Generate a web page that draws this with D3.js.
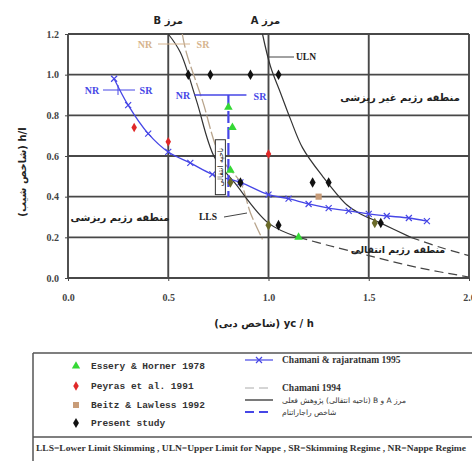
<!DOCTYPE html>
<html>
<head>
<meta charset="utf-8">
<script src="https://cdn.jsdelivr.net/npm/d3@7"></script>
<style>
  body { margin: 0; background: #fff; }
  svg { display: block; }
</style>
</head>
<body>
<script>
// ---- data ----
const xTicks = [0, 0.5, 1.0, 1.5, 2.0];
const yTicks = [0, 0.2, 0.4, 0.6, 0.8, 1.0, 1.2];

// Chamani & Rajaratnam 1995 (blue, x markers)
const chamRajX = [0.23, 0.30, 0.40, 0.50, 0.61, 0.72, 0.86, 1.00, 1.10, 1.20, 1.30, 1.40, 1.50, 1.59, 1.70, 1.79];
const chamRajY = [0.98, 0.85, 0.71, 0.62, 0.566, 0.51, 0.47, 0.41, 0.39, 0.364, 0.344, 0.33, 0.315, 0.305, 0.295, 0.28];

// boundary B (solid) and its dashed continuation
const bndBX = [0.50, 0.56, 0.64, 0.73, 0.83, 1.00, 1.15];
const bndBY = [1.20, 1.11, 0.875, 0.595, 0.47, 0.27, 0.20];
const bndBDashX = [1.15, 1.30, 1.50, 1.75, 2.00];
const bndBDashY = [0.20, 0.16, 0.11, 0.05, 0.005];

// Chamani 1994 LLS line (light dashed)
const cham94X = [0.57, 0.59, 0.67, 0.76, 0.86, 0.91, 0.97];
const cham94Y = [1.20, 1.11, 0.875, 0.595, 0.47, 0.32, 0.19];

// boundary A (ULN)
const bndAX = [0.97, 1.01, 1.06, 1.11, 1.17, 1.27, 1.39, 1.45, 1.56, 1.71];
const bndAY = [1.20, 1.04, 0.91, 0.78, 0.64, 0.50, 0.36, 0.32, 0.27, 0.20];
const bndADashX = [1.71, 1.86, 2.00];
const bndADashY = [0.20, 0.15, 0.11];

// Rajaratnam index (blue NR/SR lines)
const rajHX = [0.63, 0.89], rajHY = [0.90, 0.90];
const rajVX = [0.80, 0.80], rajVY = [0.90, 0.40];

const esseryX = [0.80, 0.82, 0.81, 1.15];
const esseryY = [0.84, 0.74, 0.53, 0.20];
const peyrasX = [0.33, 0.50, 1.00];
const peyrasY = [0.74, 0.67, 0.61];
const beitzX = [1.25];
const beitzY = [0.40];
const presentX = [0.60, 0.71, 0.91, 1.05, 0.86, 1.05, 1.22, 1.30, 1.56];
const presentY = [1.00, 1.00, 1.00, 1.00, 0.47, 0.26, 0.47, 0.47, 0.27];
const presentOliveX = [0.81, 1.00, 1.53];
const presentOliveY = [0.47, 0.26, 0.27];

const legendLeft = ["Essery & Horner 1978", "Peyras et al. 1991", "Beitz & Lawless 1992", "Present study"];
const legendRight = ["Chamani & rajaratnam 1995", "Chamani 1994", "مرز A و B (ناحیه انتقالی) پژوهش فعلی", "شاخص راجاراتنام"];
const footnote = "LLS=Lower Limit Skimming , ULN=Upper Limit for Nappe , SR=Skimming Regime , NR=Nappe Regime";

// ---- layout ----
const W = 472, H = 461;
const margin = { top: 34, right: 3, bottom: 183, left: 68 };
const x = d3.scaleLinear().domain([0, 2]).range([margin.left, W - margin.right]);
const y = d3.scaleLinear().domain([0, 1.2]).range([H - margin.bottom, margin.top]);

const serif = "'Liberation Serif', serif";
const mono = "'Liberation Mono', monospace";
const fa = "'DejaVu Sans', sans-serif";
const blue = "#4646e6";

const svg = d3.select("body").append("svg")
  .attr("width", W).attr("height", H)
  .attr("viewBox", [0, 0, W, H]);

const zip = (a, b) => a.map((v, i) => [v, b[i]]);
const line = d3.line().x(d => x(d[0])).y(d => y(d[1]));
const smooth = d3.line().x(d => x(d[0])).y(d => y(d[1])).curve(d3.curveCatmullRom);

// grid
const grid = svg.append("g").attr("stroke", "#484848").attr("stroke-width", 1.9);
grid.selectAll(".v").data(xTicks).join("line")
  .attr("x1", d => x(d)).attr("x2", d => x(d))
  .attr("y1", y(1.2)).attr("y2", y(0));
grid.selectAll(".h").data(yTicks).join("line")
  .attr("x1", x(0)).attr("x2", x(2))
  .attr("y1", d => y(d)).attr("y2", d => y(d));

// axes
const yAxis = svg.append("g").attr("transform", `translate(${x(0)},0)`)
  .call(d3.axisLeft(y).tickValues(yTicks).tickFormat(d3.format(".1f")).tickSize(3).tickPadding(6));
const xAxis = svg.append("g").attr("transform", `translate(0,${y(0)})`)
  .call(d3.axisBottom(x).tickValues(xTicks).tickFormat(d3.format(".1f")).tickSize(3).tickPadding(13));
[xAxis, yAxis].forEach(g => {
  g.select(".domain").remove();
  g.selectAll(".tick line").attr("stroke", "#484848");
  g.selectAll("text").attr("font-family", serif).attr("font-weight", "bold")
    .attr("font-size", 10).attr("fill", "#444");
});

// curves
svg.append("path").attr("d", smooth(zip(cham94X, cham94Y)))
  .attr("fill", "none").attr("stroke", "#b8a48c").attr("stroke-width", 1.3)
  .attr("stroke-dasharray", "14,3");
svg.append("path").attr("d", smooth(zip(bndBX, bndBY)))
  .attr("fill", "none").attr("stroke", "#333").attr("stroke-width", 1.2);
svg.append("path").attr("d", smooth(zip(bndBDashX, bndBDashY)))
  .attr("fill", "none").attr("stroke", "#444").attr("stroke-width", 1.2)
  .attr("stroke-dasharray", "9,5");
svg.append("path").attr("d", smooth(zip(bndAX, bndAY)))
  .attr("fill", "none").attr("stroke", "#333").attr("stroke-width", 1.2);
svg.append("path").attr("d", smooth(zip(bndADashX, bndADashY)))
  .attr("fill", "none").attr("stroke", "#444").attr("stroke-width", 1.2)
  .attr("stroke-dasharray", "9,5");

// Rajaratnam index lines
svg.append("path").attr("d", line(zip(rajHX, rajHY)))
  .attr("stroke", blue).attr("stroke-width", 1.5).attr("fill", "none");
svg.append("path").attr("d", line(zip(rajVX, rajVY)))
  .attr("stroke", blue).attr("stroke-width", 2.2).attr("fill", "none")
  .attr("stroke-dasharray", "12,4");

// Chamani & Rajaratnam 1995
const chamRaj = zip(chamRajX, chamRajY);
svg.append("path").attr("d", smooth(chamRaj))
  .attr("fill", "none").attr("stroke", blue).attr("stroke-width", 1.3);
const xMark = (sel, s) => sel.append("path")
  .attr("d", `M${-s},${-s}L${s},${s}M${-s},${s}L${s},${-s}`)
  .attr("stroke", blue).attr("stroke-width", 1.2);
svg.selectAll(".xm").data(chamRaj).join("g")
  .attr("transform", d => `translate(${x(d[0])},${y(d[1])})`)
  .each(function () { xMark(d3.select(this), 3); });

// rotated boxed label inside the transition zone
const bx0 = x(0.735), bx1 = x(0.785), by0 = y(0.68), by1 = y(0.41);
svg.append("rect").attr("x", bx0).attr("y", by0).attr("width", bx1 - bx0).attr("height", by1 - by0)
  .attr("fill", "#fff").attr("stroke", "#333").attr("stroke-width", 1);
svg.append("text")
  .attr("transform", `translate(${(bx0 + bx1) / 2 + 3},${(by0 + by1) / 2}) rotate(-90)`)
  .attr("text-anchor", "middle").attr("font-family", fa).attr("font-size", 7.5)
  .attr("direction", "rtl").attr("fill", "#222").text("ناحیه انتقالی");

// markers
const pts = (xs, ys, shape, size, fill) =>
  svg.append("g").selectAll("path").data(zip(xs, ys)).join("path")
    .attr("transform", d => `translate(${x(d[0])},${y(d[1])})`)
    .attr("d", d3.symbol().type(shape).size(size)).attr("fill", fill);
pts(esseryX, esseryY, d3.symbolTriangle, 32, "#35d835");
pts(peyrasX, peyrasY, d3.symbolDiamond, 26, "#e02828");
pts(beitzX, beitzY, d3.symbolSquare, 38, "#c89c78");
pts(presentOliveX, presentOliveY, d3.symbolDiamond, 32, "#6a6a28");
pts(presentX, presentY, d3.symbolDiamond, 32, "#111");

// labels in plot
const lbl = (t, px, py, o = {}) => svg.append("text")
  .attr("x", px).attr("y", py).attr("dy", "0.35em")
  .attr("text-anchor", o.anchor || "middle")
  .attr("font-family", o.font || serif).attr("font-size", o.size || 10)
  .attr("font-weight", o.weight || "bold").attr("fill", o.fill || "#222")
  .attr("direction", o.dir || null).text(t);

// boundary titles above the plot
lbl("مرز B", x(0.5), 20, { font: fa, dir: "rtl" });
lbl("مرز A", x(0.985), 20, { font: fa, dir: "rtl" });

// NR / SR labels
const tan = "#d6b48e";
lbl("NR", 145, 44, { fill: tan });
svg.append("line").attr("x1", 158).attr("x2", 190).attr("y1", 44).attr("y2", 44).attr("stroke", tan);
lbl("SR", 203, 44, { fill: tan });

lbl("NR", 92, 90, { fill: blue });
svg.append("line").attr("x1", 103).attr("x2", 135).attr("y1", 90).attr("y2", 90).attr("stroke", blue);
svg.append("line").attr("x1", 118).attr("x2", 118).attr("y1", 85).attr("y2", 95).attr("stroke", blue);
lbl("SR", 146, 90, { fill: blue });

lbl("NR", 183, 95, { fill: blue });
lbl("SR", 260, 96, { fill: blue });

// ULN pointer
svg.append("line").attr("x1", x(1.0)).attr("x2", 294).attr("y1", 57).attr("y2", 57).attr("stroke", "#444");
lbl("ULN", 296, 57, { anchor: "start", size: 9.5 });

// LLS pointer
svg.append("line").attr("x1", 224).attr("x2", 247).attr("y1", 217).attr("y2", 213).attr("stroke", "#444");
lbl("LLS", 208, 217, { size: 9.5 });

// region labels
lbl("منطقه رژیم غیر ریزشی", 400, 97, { font: fa, dir: "rtl", size: 10 });
lbl("منطقه رژیم ریزشی", 120, 217, { font: fa, dir: "rtl", size: 10 });
lbl("منطقه رژیم انتقالی", 398, 250, { font: fa, dir: "rtl", size: 9.5 });

// axis titles
svg.append("text")
  .attr("transform", `translate(22,172) rotate(-90)`)
  .attr("text-anchor", "middle").attr("dy", "0.35em")
  .attr("font-family", fa).attr("font-size", 10).attr("font-weight", "bold")
  .attr("direction", "rtl").attr("fill", "#222")
  .text("h/l (شاخص شیب)");
svg.append("text")
  .attr("x", 264).attr("y", 323).attr("dy", "0.35em")
  .attr("text-anchor", "middle")
  .attr("font-family", fa).attr("font-size", 10).attr("font-weight", "bold")
  .attr("direction", "rtl").attr("fill", "#222")
  .text("yc / h (شاخص دبی)");

// ---- legend ----
const leg = svg.append("g");
leg.append("line").attr("x1", 33).attr("x2", W).attr("y1", 353).attr("y2", 353).attr("stroke", "#555").attr("stroke-width", 1.5);
leg.append("line").attr("x1", 33).attr("x2", W).attr("y1", 437).attr("y2", 437).attr("stroke", "#555").attr("stroke-width", 1.5);
leg.append("line").attr("x1", 33).attr("x2", 33).attr("y1", 353).attr("y2", H).attr("stroke", "#555").attr("stroke-width", 1.5);

const leftRows = [366, 386, 405, 423];
const leftMarks = [
  [d3.symbolTriangle, 30, "#35d835"],
  [d3.symbolDiamond, 26, "#e02828"],
  [d3.symbolSquare, 36, "#c89c78"],
  [d3.symbolDiamond, 30, "#111"]
];
legendLeft.forEach((t, i) => {
  leg.append("path").attr("transform", `translate(76,${leftRows[i]})`)
    .attr("d", d3.symbol().type(leftMarks[i][0]).size(leftMarks[i][1])).attr("fill", leftMarks[i][2]);
  leg.append("text").attr("x", 91).attr("y", leftRows[i]).attr("dy", "0.35em")
    .attr("font-family", mono).attr("font-weight", "bold").attr("font-size", 9.5)
    .attr("fill", "#333").text(t);
});

const rightRows = [360, 388, 400, 412];
// sample lines
leg.append("line").attr("x1", 245).attr("x2", 273).attr("y1", rightRows[0]).attr("y2", rightRows[0]).attr("stroke", blue).attr("stroke-width", 1.2);
xMark(leg.append("g").attr("transform", `translate(259,${rightRows[0]})`), 3);
leg.append("line").attr("x1", 245).attr("x2", 273).attr("y1", rightRows[1]).attr("y2", rightRows[1]).attr("stroke", "#aaa").attr("stroke-width", 1).attr("stroke-dasharray", "9,5");
leg.append("line").attr("x1", 245).attr("x2", 273).attr("y1", rightRows[2]).attr("y2", rightRows[2]).attr("stroke", "#222").attr("stroke-width", 1.2);
leg.append("line").attr("x1", 245).attr("x2", 273).attr("y1", rightRows[3]).attr("y2", rightRows[3]).attr("stroke", blue).attr("stroke-width", 2).attr("stroke-dasharray", "9,5");

legendRight.forEach((t, i) => {
  const isFa = i >= 2;
  leg.append("text").attr("x", 282).attr("y", rightRows[i]).attr("dy", "0.35em")
    .attr("text-anchor", isFa ? "end" : "start")
    .attr("direction", isFa ? "rtl" : null)
    .attr("font-family", isFa ? fa : serif).attr("font-weight", isFa ? "normal" : "bold")
    .attr("font-size", isFa ? 7.5 : 9.5)
    .attr("fill", "#333").text(t);
});

leg.append("text").attr("x", 36).attr("y", 448).attr("dy", "0.35em")
  .attr("font-family", serif).attr("font-weight", "bold").attr("font-size", 8)
  .attr("textLength", 430).attr("lengthAdjust", "spacingAndGlyphs")
  .attr("fill", "#333").text(footnote);
</script>
</body>
</html>
